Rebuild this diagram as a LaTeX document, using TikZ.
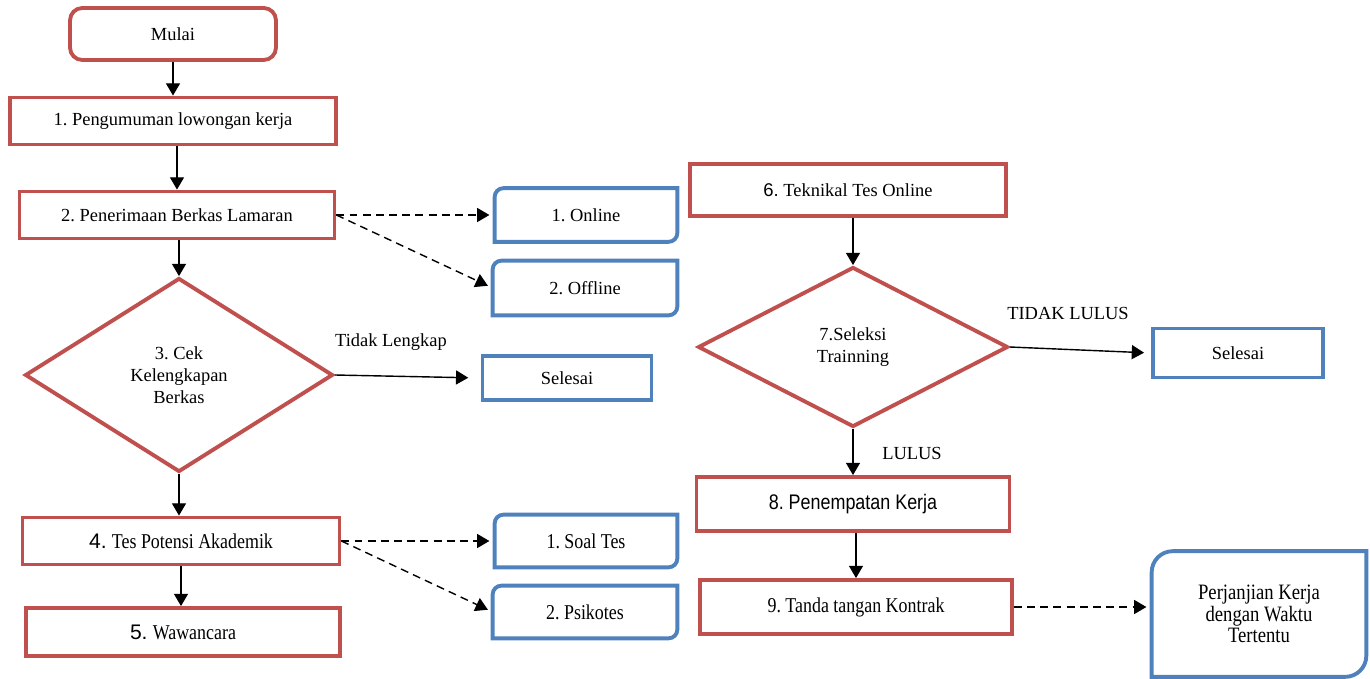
\documentclass[tikz,border=0pt]{standalone}
\usepackage{fontspec}
\setmainfont{Liberation Serif}
\newfontfamily\sansnum{Liberation Sans}
\newfontfamily\narrowsf[FakeStretch=0.85]{Liberation Sans}
\newfontfamily\narrowrm[FakeStretch=0.85]{Liberation Serif}
\usetikzlibrary{shapes.geometric,arrows.meta}
\definecolor{boxred}{RGB}{192,80,77}
\definecolor{boxblue}{RGB}{79,129,189}
\frenchspacing

\tikzset{
	redbox/.style = {draw=boxred, line width=2.2pt, minimum height=0.94cm, inner sep=0pt,
		font=\fontsize{10.5}{12.6}\selectfont},
	reddiamond/.style = {diamond, draw=boxred, line width=2.2pt, inner sep=0pt, align=center,
		font=\fontsize{10.5}{12.6}\selectfont},
	bluebox/.style = {draw=boxblue, line width=2.2pt, inner sep=0pt,
		font=\fontsize{10.5}{12.6}\selectfont},
	blueplain/.style = {inner sep=0pt, align=center, font=\fontsize{10.5}{12.6}\selectfont},
	big/.style = {font=\fontsize{12}{13}\selectfont},
	flow/.style = {line width=0.8pt, -{Triangle[length=7pt,width=8pt]}},
	dashflow/.style = {flow, dashed, dash pattern=on 4.5pt off 3pt, shorten >=3pt},
	lbl/.style = {font=\fontsize{10.5}{12.6}\selectfont}
}

\begin{document}
\begin{tikzpicture}[x=0.02cm, y=-0.02cm]
	\useasboundingbox (0,0) rectangle (1370,679);
	% kolom kiri
	\node[redbox, rounded corners=7pt, minimum width=4.12cm, minimum height=1.04cm] (mulai) at (173,34) {Mulai};
	\node[redbox, minimum width=6.52cm] (umum) at (173,121) {1. Pengumuman lowongan kerja};
	\node[redbox, minimum width=6.3cm] (terima) at (177,215) {2. Penerimaan Berkas Lamaran};
	\node[reddiamond, minimum width=6.16cm, minimum height=3.88cm] (cek) at (179,375) {3. Cek\\Kelengkapan\\Berkas};
	\node[redbox, big, minimum width=6.34cm] (tpa) at (181,541) {{\sansnum 4.} {\narrowrm Tes Potensi Akademik}};
	\node[redbox, big, minimum width=6.28cm, minimum height=0.96cm] (wawan) at (183,632) {{\sansnum 5.} {\narrowrm Wawancara}};
	% kolom tengah
	\node[blueplain, minimum width=3.64cm, minimum height=1.06cm] (online) at (586,215) {1. Online};
	\node[blueplain, minimum width=3.68cm, minimum height=1.08cm] (offline) at (585,288) {2. Offline};
	\node[bluebox, minimum width=3.38cm, minimum height=0.88cm] (selesaia) at (567,378) {Selesai};
	\node[blueplain, big, minimum width=3.64cm, minimum height=1.04cm] (soal) at (586,541) {\narrowrm 1. Soal Tes};
	\node[blueplain, big, minimum width=3.68cm, minimum height=1.04cm] (psiko) at (585,612) {\narrowrm 2. Psikotes};
	% kolom kanan
	\node[redbox, minimum width=6.32cm, minimum height=1.04cm] (teknik) at (848,190) {{\sansnum 6.} Teknikal Tes Online};
	\node[reddiamond, minimum width=6.2cm, minimum height=3.2cm] (seleksi) at (853,347) {7.Seleksi\\Trainning};
	\node[bluebox, minimum width=3.4cm, minimum height=0.98cm] (selesaib) at (1238,353) {Selesai};
	\node[redbox, big, minimum width=6.26cm, minimum height=1.08cm] (tempat) at (853,504) {\narrowsf 8. Penempatan Kerja};
	\node[redbox, big, minimum width=6.24cm, minimum height=1.08cm] (kontrak) at (856,607) {\narrowrm 9. Tanda tangan Kontrak};
	\node[blueplain, font=\fontsize{12.5}{12}\selectfont, minimum width=4.28cm, minimum height=2.5cm] (janji) at (1259,614) {\narrowrm Perjanjian Kerja\\[0.4pt]\narrowrm dengan Waktu\\[0.4pt]\narrowrm Tertentu};

	% bingkai biru dengan dua sudut bulat
	\foreach \n/\r in {online/5pt, offline/5pt, soal/5pt, psiko/5pt, janji/12pt}{
		\draw[draw=boxblue, line width=2.2pt]
			([yshift=-\r]\n.north west) arc[start angle=180, end angle=90, radius=\r]
			-- (\n.north east) -- ([yshift=\r]\n.south east)
			arc[start angle=0, end angle=-90, radius=\r] -- (\n.south west) -- cycle;
		};

	% label
	\node[lbl] (tl) at (391,342) {Tidak Lengkap};
	\node[lbl] (tdl) at (1068,313) {TIDAK LULUS};
	\node[lbl] (ls) at (912,453) {LULUS};

	% panah
	\draw[flow] (mulai) -- (umum);
	\draw[flow] (umum.south -| terima.north) -- (terima.north);
	\draw[flow] (terima.south -| cek.north) -- (cek.north);
	\draw[flow] (cek.south) -- (cek.south |- tpa.north);
	\draw[flow] (tpa.south) -- (tpa.south |- wawan.north);
	\draw[flow, shorten >=7pt] (cek.east) -- (selesaia.west);
	\draw[flow] (teknik.south -| seleksi.north) -- (seleksi.north);
	\draw[flow, shorten >=4pt] (seleksi.east) -- (selesaib.west);
	\draw[flow] (seleksi.south) -- (seleksi.south |- tempat.north);
	\draw[flow] (tempat.south -| kontrak.north) -- (kontrak.north);
	\foreach \a/\b in {terima/online, terima/offline, tpa/soal, tpa/psiko}{
		\draw[dashflow] (\a.east) -- (\b.west);
		};
	\draw[dashflow] (kontrak.east) -- (kontrak.east -| janji.west);
	%\draw[help lines] (0,0) grid[step=50] (1370,679);
\end{tikzpicture}
\end{document}
